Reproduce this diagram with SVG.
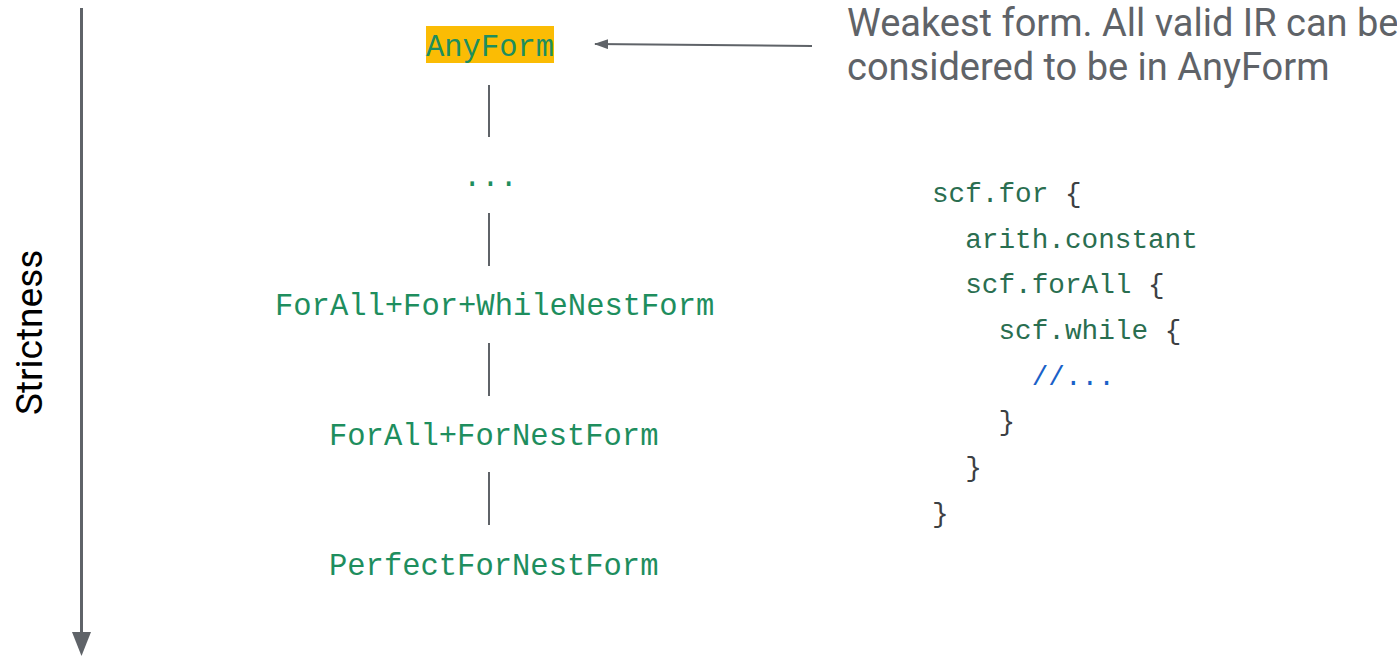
<svg xmlns="http://www.w3.org/2000/svg" width="1397" height="656" viewBox="0 0 1397 656">
  <style>
    .node { font-family: "Liberation Mono", "Courier New", monospace; font-size: 30.5px; fill: #1e8e5e; }
    .code { font-family: "Liberation Mono", "Courier New", monospace; font-size: 27.7px; fill: #2a6e50; white-space: pre; }
    .brace { fill: #3c4043; }
    .cmt { fill: #1a61c8; }
    .note { font-family: Roboto, "Liberation Sans", sans-serif; font-size: 38px; fill: #5f6368; }
    .axis-label { font-family: Roboto, "Liberation Sans", sans-serif; font-size: 37px; fill: #000000; }
    .link { stroke: #5f6368; stroke-width: 2; fill: none; }
  </style>
  <defs>
    <marker id="arrowSmall" viewBox="0 0 14 10" refX="13" refY="5" markerWidth="14" markerHeight="10" markerUnits="userSpaceOnUse" orient="auto">
      <path d="M0,0 L14,5 L0,10 Z" fill="#5f6368"/>
    </marker>
    <marker id="arrowBig" viewBox="0 0 24 20" refX="23" refY="10" markerWidth="24" markerHeight="20" markerUnits="userSpaceOnUse" orient="auto">
      <path d="M0,0 L24,10 L0,20 Z" fill="#5f6368"/>
    </marker>
  </defs>

  <g id="axis">
    <line x1="81.5" y1="8" x2="81.5" y2="634" stroke="#5f6368" stroke-width="3"/>
    <path d="M72,632 L91,632 L81.5,656 Z" fill="#5f6368"/>
    <text class="axis-label" transform="translate(42,415) rotate(-90)">Strictness</text>
  </g>

  <g id="connectors">
    <line class="link" x1="489" y1="85" x2="489" y2="137"/>
    <line class="link" x1="489" y1="213" x2="489" y2="266"/>
    <line class="link" x1="489" y1="343" x2="489" y2="396"/>
    <line class="link" x1="489" y1="472" x2="489" y2="525"/>
    <line class="link" x1="812" y1="46" x2="595" y2="44" marker-end="url(#arrowSmall)"/>
  </g>

  <g id="node-anyform">
    <rect x="426" y="26" width="128" height="37" fill="#fbbc04"/>
    <text class="node" x="426" y="56">AnyForm</text>
  </g>
  <g id="node-ellipsis">
    <text class="node" x="463" y="186">...</text>
  </g>
  <g id="node-forall-for-while">
    <text class="node" x="275" y="315">ForAll+For+WhileNestForm</text>
  </g>
  <g id="node-forall-for">
    <text class="node" x="329" y="445">ForAll+ForNestForm</text>
  </g>
  <g id="node-perfect">
    <text class="node" x="329" y="575">PerfectForNestForm</text>
  </g>

  <g id="note">
    <text class="note" x="847" y="36">Weakest form. All valid IR can be</text>
    <text class="note" x="847" y="80">considered to be in AnyForm</text>
  </g>

  <g id="code">
    <text class="code" x="932" y="202">scf.for <tspan class="brace">{</tspan></text>
    <text class="code" x="932" y="248">  arith.constant</text>
    <text class="code" x="932" y="293">  scf.forAll <tspan class="brace">{</tspan></text>
    <text class="code" x="932" y="339">    scf.while <tspan class="brace">{</tspan></text>
    <text class="code cmt" x="932" y="385">      //...</text>
    <text class="code brace" x="932" y="430">    }</text>
    <text class="code brace" x="932" y="476">  }</text>
    <text class="code brace" x="932" y="522">}</text>
  </g>
</svg>
